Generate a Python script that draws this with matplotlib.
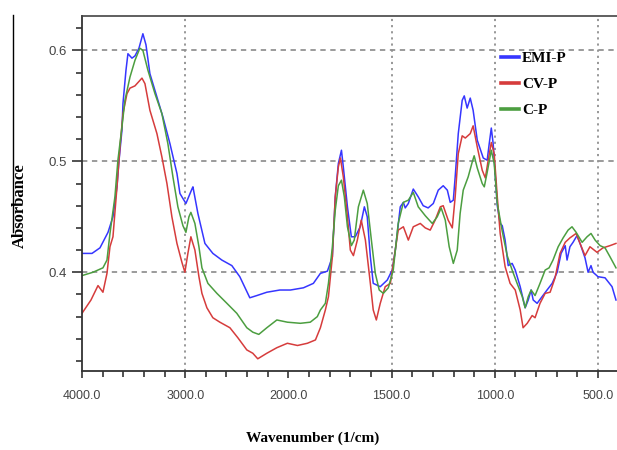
import numpy as np
import matplotlib
matplotlib.use('Agg')
import matplotlib.pyplot as plt
from matplotlib.lines import Line2D
from matplotlib.ticker import FixedLocator, FormatStrFormatter

# EMI-P
wn_emi = [4000, 3903, 3826, 3748, 3700, 3661, 3642, 3613, 3603, 3574, 3555, 3516, 3487, 3448, 3410,
          3380, 3342, 3274, 3216, 3148, 3080, 3051, 2993, 2935, 2925, 2877, 2809, 2732, 2645, 2548,
          2471, 2374, 2306, 2209, 2083, 1990, 1927, 1879, 1845, 1811, 1787, 1773, 1758, 1743, 1734,
          1714, 1695, 1676, 1652, 1632, 1618, 1603, 1589, 1555, 1521, 1497, 1482, 1458, 1443, 1434,
          1419, 1395, 1371, 1347, 1323, 1298, 1274, 1250, 1230, 1216, 1201, 1192, 1177, 1158, 1148,
          1134, 1119, 1105, 1085, 1056, 1037, 1027, 1017, 1008, 988, 974, 964, 950, 935, 916,
          901, 877, 853, 838, 824, 814, 795, 771, 747, 722, 698, 679, 659, 650, 636,
          621, 602, 587, 563, 548, 534, 524, 500, 466, 432, 413]
ab_emi = [0.417, 0.417, 0.422, 0.436, 0.450, 0.477, 0.500, 0.528, 0.552, 0.582, 0.597, 0.593, 0.595, 0.602, 0.615,
          0.605, 0.579, 0.558, 0.540, 0.516, 0.489, 0.471, 0.462, 0.475, 0.477, 0.453, 0.426, 0.417, 0.411, 0.406,
          0.396, 0.377, 0.379, 0.382, 0.384, 0.384, 0.386, 0.390, 0.399, 0.401, 0.414, 0.468, 0.498, 0.510, 0.495,
          0.459, 0.432, 0.432, 0.441, 0.459, 0.450, 0.414, 0.390, 0.387, 0.393, 0.402, 0.420, 0.459, 0.463, 0.458,
          0.462, 0.475, 0.468, 0.460, 0.458, 0.462, 0.474, 0.478, 0.474, 0.463, 0.465, 0.486, 0.525, 0.555, 0.559,
          0.548, 0.557, 0.546, 0.519, 0.503, 0.501, 0.516, 0.530, 0.516, 0.460, 0.444, 0.442, 0.429, 0.406, 0.408,
          0.402, 0.387, 0.368, 0.375, 0.384, 0.375, 0.372, 0.378, 0.384, 0.390, 0.400, 0.417, 0.424, 0.411, 0.423,
          0.427, 0.433, 0.426, 0.413, 0.400, 0.406, 0.400, 0.396, 0.395, 0.387, 0.375]

# CV-P
wn_cv = [4000, 3913, 3845, 3797, 3758, 3729, 3700, 3661, 3632, 3603, 3564, 3535, 3487, 3419, 3390,
         3342, 3274, 3226, 3177, 3129, 3080, 3032, 3003, 2974, 2945, 2906, 2867, 2838, 2790, 2732,
         2664, 2567, 2490, 2403, 2345, 2297, 2209, 2112, 2010, 1956, 1908, 1869, 1845, 1821, 1806,
         1787, 1773, 1758, 1748, 1734, 1714, 1700, 1685, 1666, 1647, 1627, 1603, 1589, 1574, 1555,
         1531, 1506, 1487, 1468, 1443, 1419, 1395, 1361, 1337, 1313, 1289, 1264, 1250, 1226, 1206,
         1192, 1177, 1158, 1143, 1119, 1105, 1085, 1061, 1046, 1032, 1017, 1003, 988, 974, 950,
         926, 901, 877, 863, 843, 819, 805, 781, 756, 732, 708, 684, 659, 636, 606,
         587, 563, 539, 505, 476, 442, 413]
ab_cv = [0.363, 0.375, 0.388, 0.382, 0.399, 0.423, 0.432, 0.477, 0.513, 0.543, 0.561, 0.566, 0.568, 0.575, 0.570,
         0.546, 0.525, 0.504, 0.480, 0.450, 0.426, 0.409, 0.400, 0.417, 0.432, 0.420, 0.396, 0.381, 0.368, 0.359,
         0.355, 0.350, 0.341, 0.330, 0.327, 0.322, 0.327, 0.332, 0.336, 0.334, 0.336, 0.339, 0.350, 0.366, 0.378,
         0.414, 0.468, 0.495, 0.503, 0.486, 0.450, 0.420, 0.415, 0.429, 0.447, 0.429, 0.390, 0.366, 0.357, 0.372,
         0.387, 0.390, 0.414, 0.438, 0.441, 0.429, 0.441, 0.444, 0.440, 0.438, 0.447, 0.459, 0.460, 0.447, 0.440,
         0.468, 0.507, 0.523, 0.521, 0.525, 0.532, 0.513, 0.492, 0.485, 0.501, 0.517, 0.507, 0.468, 0.435, 0.405,
         0.390, 0.384, 0.366, 0.350, 0.354, 0.361, 0.359, 0.372, 0.381, 0.382, 0.395, 0.417, 0.427, 0.431, 0.435,
         0.426, 0.415, 0.423, 0.418, 0.422, 0.424, 0.426]

# C-P
wn_c = [4000, 3894, 3797, 3758, 3729, 3681, 3652, 3613, 3584, 3535, 3487, 3439, 3410, 3361, 3293,
        3226, 3168, 3119, 3071, 3022, 2993, 2964, 2945, 2906, 2867, 2838, 2780, 2693, 2596, 2500,
        2403, 2345, 2287, 2209, 2112, 2010, 1942, 1894, 1860, 1845, 1821, 1806, 1787, 1773, 1758,
        1743, 1729, 1714, 1695, 1681, 1661, 1637, 1618, 1598, 1579, 1560, 1540, 1516, 1492, 1468,
        1443, 1419, 1395, 1371, 1337, 1303, 1279, 1260, 1240, 1221, 1201, 1182, 1168, 1153, 1129,
        1110, 1100, 1085, 1061, 1051, 1037, 1017, 1003, 988, 964, 940, 916, 892, 867, 853,
        838, 824, 805, 781, 756, 737, 718, 693, 669, 645, 626, 606, 577, 553, 534,
        514, 490, 466, 442, 413]
ab_c = [0.397, 0.400, 0.404, 0.411, 0.435, 0.468, 0.501, 0.531, 0.555, 0.576, 0.591, 0.602, 0.600, 0.582, 0.561,
        0.543, 0.516, 0.486, 0.459, 0.442, 0.436, 0.450, 0.454, 0.444, 0.423, 0.404, 0.390, 0.381, 0.372, 0.363,
        0.350, 0.346, 0.344, 0.350, 0.357, 0.355, 0.354, 0.355, 0.360, 0.366, 0.372, 0.390, 0.423, 0.456, 0.478,
        0.483, 0.468, 0.441, 0.424, 0.429, 0.459, 0.474, 0.462, 0.429, 0.399, 0.384, 0.381, 0.386, 0.402, 0.444,
        0.463, 0.465, 0.472, 0.459, 0.451, 0.444, 0.450, 0.458, 0.447, 0.423, 0.408, 0.420, 0.453, 0.474, 0.486,
        0.499, 0.505, 0.494, 0.480, 0.477, 0.490, 0.510, 0.498, 0.462, 0.437, 0.415, 0.402, 0.390, 0.378, 0.368,
        0.378, 0.384, 0.379, 0.390, 0.402, 0.404, 0.411, 0.423, 0.431, 0.438, 0.441, 0.436, 0.427, 0.432, 0.435,
        0.429, 0.424, 0.422, 0.414, 0.404]

labels = ['EMI-P', 'CV-P', 'C-P']
colors = ['#3636ff', '#d63c3c', '#4c9e40']
xticks = [4000, 3000, 2000, 1500, 1000, 500]
xgrid = [3000, 1500, 1000, 500]
yticks = [0.4, 0.5, 0.6]


# wavenumbers above 2000 are drawn at half scale
def fwd(w):
    w = np.asarray(w, dtype=float)
    return np.where(w > 2000, 2000 + (w - 2000) / 2, w)


def inv(v):
    v = np.asarray(v, dtype=float)
    return np.where(v > 2000, 2000 + (v - 2000) * 2, v)


fig = plt.figure(figsize=(6.17, 4.5), dpi=100)
ax = fig.add_axes([82 / 617, 1 - 371 / 450, 1 - 82 / 617, 355 / 450])
ax.set_xscale('function', functions=(fwd, inv))

for w, a, c in zip([wn_emi, wn_cv, wn_c], [ab_emi, ab_cv, ab_c], colors):
    ax.plot(w, a, color=c, lw=1.1)

ax.set_xlim(4000, 408)
ax.set_ylim(0.311, 0.631)

for y in yticks:
    ax.axhline(y, color='#808080', lw=1.1, ls=(0, (3.5, 3)), zorder=0)
for x in xgrid:
    ax.axvline(x, color='#909090', lw=1.3, ls=(0, (1.2, 2.2)), zorder=0)

ax.xaxis.set_major_locator(FixedLocator(xticks))
ax.xaxis.set_minor_locator(FixedLocator(list(range(3800, 2000, -200)) + list(range(1900, 400, -100))))
ax.xaxis.set_major_formatter(FormatStrFormatter('%.1f'))
ax.yaxis.set_major_locator(FixedLocator(yticks))
ax.yaxis.set_minor_locator(FixedLocator(np.arange(0.32, 0.63, 0.02)))
ax.yaxis.set_major_formatter(FormatStrFormatter('%.1f'))

ax.tick_params(axis='x', which='major', length=5, width=1.2, color='#333333', pad=9,
               labelsize=9, labelcolor='#444444')
ax.tick_params(axis='x', which='minor', length=4, width=1.2, color='#333333')
ax.tick_params(axis='y', which='major', length=7, width=1.2, color='#333333', pad=4,
               labelsize=9.5, labelcolor='#444444')
ax.tick_params(axis='y', which='minor', length=4, width=1.2, color='#333333')
for lab in ax.get_xticklabels() + ax.get_yticklabels():
    lab.set_fontfamily('Liberation Sans')

for s in ['left', 'bottom']:
    ax.spines[s].set_color('#333333')
    ax.spines[s].set_linewidth(1.3)
ax.spines['top'].set_color('#444444')
ax.spines['top'].set_linewidth(1.2)
ax.spines['right'].set_visible(False)

handles = [Line2D([], [], color=c, lw=2.6) for c in colors]
fig.legend(handles, labels, loc='upper left', bbox_to_anchor=(493 / 617, 1 - 44 / 450),
           frameon=False, borderpad=0, handlelength=1.2, handletextpad=0.2, labelspacing=0.8,
           prop={'family': 'Liberation Serif', 'weight': 'bold', 'size': 11})

fig.text(313 / 617, 1 - 438 / 450, 'Wavenumber (1/cm)', ha='center', va='center',
         family='Liberation Serif', weight='bold', fontsize=11)
fig.text(20 / 617, 1 - 206 / 450, 'Absorbance', ha='center', va='center', rotation=90,
         family='Liberation Serif', weight='bold', fontsize=12)
fig.add_artist(Line2D([13 / 617, 13 / 617], [1 - 15 / 450, 1 - 232 / 450], color='black', lw=1.0))

plt.savefig('out.png', dpi=100)
